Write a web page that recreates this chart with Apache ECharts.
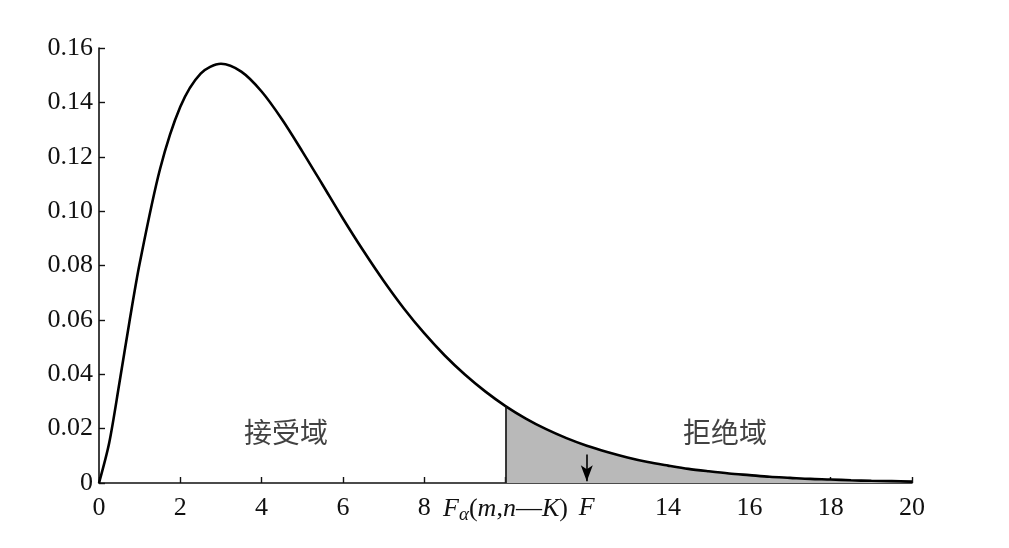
<!DOCTYPE html>
<html>
<head>
<meta charset="utf-8">
<script src="https://cdn.jsdelivr.net/npm/echarts@6/dist/echarts.min.js"></script>
<style>html,body{margin:0;padding:0;background:#fff;}#c{width:1009px;height:548px;}</style>
</head>
<body>
<div id="c"></div>
<script>
// Density curve values
const xValues = [0,0.25,0.5,0.75,1,1.5,2,2.5,3,3.5,4,4.5,5,5.5,6,6.5,7,7.5,8,8.5,9,9.5,10,10.5,11,11.5,12,12.5,13,13.5,14,14.5,15,15.5,16,16.5,17,17.5,18,18.5,19,19.5,20];
const yValues = [0,0.0147,0.0366,0.0594,0.0807,0.1154,0.1384,0.1506,0.1542,0.1513,0.1440,0.1338,0.1220,0.1097,0.0973,0.0855,0.0744,0.0642,0.0551,0.0470,0.0399,0.0337,0.0283,0.0237,0.0198,0.0165,0.0137,0.0114,0.0094,0.0077,0.0064,0.0052,0.0043,0.0035,0.0029,0.0023,0.0019,0.0015,0.0013,0.0010,0.0008,0.0007,0.0005];
const criticalX = 10;     // F_alpha(m, n-K)
const statX = 12;         // F
const arrowTop = 0.0105;
const arrowBottom = 0.0006;
const xTickLabels = {10: 'crit', 12: 'stat'};
const regionLabels = [
  {name: '接受域', x: 4.6, y: 0.0185},
  {name: '拒绝域', x: 15.4, y: 0.0185}
];

const curve = xValues.map((x, i) => [x, yValues[i]]);
const tail = curve.filter(p => p[0] >= criticalX);
const critY = yValues[xValues.indexOf(criticalX)];

const chart = echarts.init(document.getElementById('c'));
const serif = '"Liberation Serif", "DejaVu Serif", serif';
const FS = 26;
const axisLine = {show: true, onZero: false, lineStyle: {color: '#111', width: 1.6}};
chart.setOption({
  animation: false,
  backgroundColor: '#fff',
  grid: {left: 99, right: 97, top: 48, bottom: 65},
  xAxis: {
    type: 'value', min: 0, max: 20, interval: 2,
    axisLine: axisLine,
    axisTick: {show: true, inside: true, length: 6, lineStyle: {color: '#111', width: 1.4}},
    splitLine: {show: false},
    axisLabel: {
      color: '#111', fontFamily: serif, fontSize: FS, margin: 12,
      formatter: function (v) {
        if (xTickLabels[v] === 'crit') return '{i|F}{s|α}{n|(}{i|m}{n|,}{i|n}{n|—}{i|K}{n|)}';
        if (xTickLabels[v] === 'stat') return '{i|F}';
        return String(v);
      },
      rich: {
        i: {fontStyle: 'italic', fontFamily: serif, fontSize: FS, color: '#111'},
        n: {fontFamily: serif, fontSize: FS, color: '#111'},
        s: {fontStyle: 'italic', fontFamily: serif, fontSize: 19, color: '#111', verticalAlign: 'bottom', padding: [10, 0, 0, 0]}
      }
    }
  },
  yAxis: {
    type: 'value', min: 0, max: 0.16, interval: 0.02,
    axisLine: axisLine,
    axisTick: {show: true, inside: true, length: 6, lineStyle: {color: '#111', width: 1.4}},
    splitLine: {show: false},
    axisLabel: {
      color: '#111', fontFamily: serif, fontSize: FS, margin: 6,
      formatter: v => v === 0 ? '0' : v.toFixed(2)
    }
  },
  series: [
    {
      type: 'line', data: tail, showSymbol: false, smooth: 0.3,
      lineStyle: {width: 0},
      areaStyle: {color: '#b9b9b9', opacity: 1},
      z: 1,
      markLine: {
        silent: true, symbol: ['none', 'none'],
        lineStyle: {color: '#111', width: 1.6, type: 'solid'},
        label: {show: false},
        data: [[{coord: [criticalX, 0]}, {coord: [criticalX, critY]}]]
      }
    },
    {
      type: 'line', data: curve, showSymbol: false, smooth: 0.3,
      lineStyle: {color: '#000', width: 2.6},
      z: 3,
      markLine: {
        silent: true, symbol: ['none', 'arrow'], symbolSize: [9, 16],
        lineStyle: {color: '#000', width: 1.6, type: 'solid'},
        label: {show: false},
        data: [[{coord: [statX, arrowTop]}, {coord: [statX, arrowBottom]}]]
      }
    },
    {
      type: 'scatter', symbolSize: 0, z: 4,
      data: regionLabels.map(r => ({name: r.name, value: [r.x, r.y]})),
      label: {
        show: true, position: 'inside', formatter: p => p.name,
        fontFamily: '"Noto Sans CJK SC", sans-serif', fontSize: 28, color: '#111'
      }
    }
  ]
});
</script>
</body>
</html>
